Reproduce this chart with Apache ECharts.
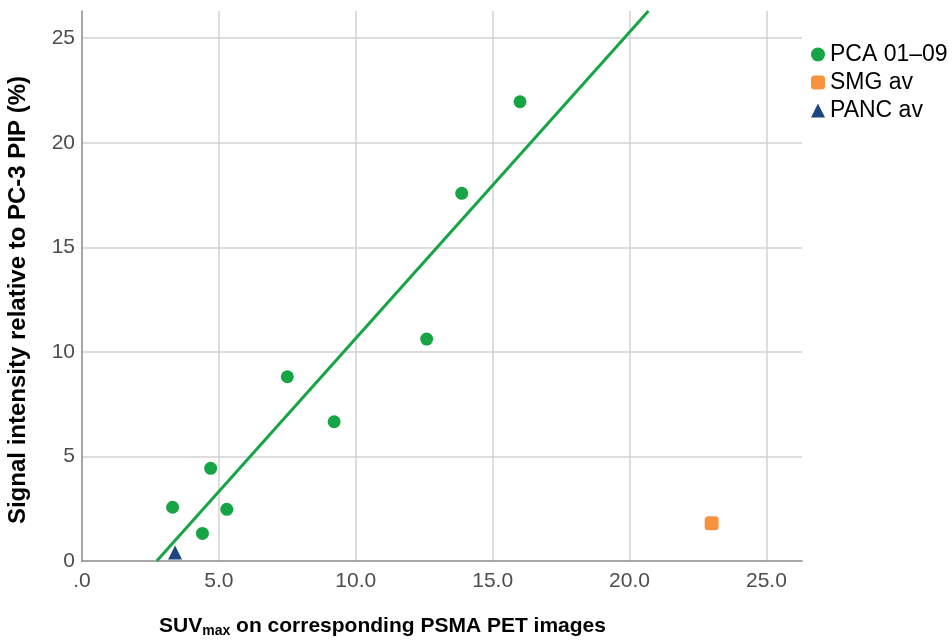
<!DOCTYPE html>
<html>
<head>
<meta charset="utf-8">
<script src="https://cdn.jsdelivr.net/npm/echarts@6/dist/echarts.min.js"></script>
<style>
  html, body { margin: 0; padding: 0; background: #fff; }
  #chart { width: 952px; height: 642px; }
</style>
</head>
<body>
<div id="chart"></div>
<script>
// PCA 01-09 : SUVmax vs signal intensity
const pcaSuv = [3.31, 4.70, 4.40, 5.29, 7.50, 9.21, 12.59, 13.87, 16.00]
const pcaSignal = [2.57, 4.43, 1.32, 2.47, 8.81, 6.66, 10.61, 17.58, 21.96]
// averages of other tissues
const smgPoint = [23.0, 1.80]
const pancPoint = [3.40, 0.41]
// regression line end points
const fitLine = [[2.73, 0], [20.69, 26.3]]
// tick labels
const xTickLabels = ['.0', '5.0', '10.0', '15.0', '20.0', '25.0']
const yTickLabels = ['0', '5', '10', '15', '20', '25']

const green = '#16a444'
const font = 'Liberation Sans, Arial, sans-serif'

const chart = echarts.init(document.getElementById('chart'))

const pcaData = pcaSuv.map((x, i) => [x, pcaSignal[i]])

//刻度标签: only multiples of 5
const tickFmt = labels => value => {
  const idx = value / 5
  return Number.isInteger(idx) && labels[idx] !== undefined ? labels[idx] : ''
}

const option = {
  animation: false,
  textStyle: { fontFamily: font },
  grid: { left: 82, right: 150, top: 11, bottom: 81, outerBoundsMode: 'none', containLabel: false },
  legend: {
    orient: 'vertical',
    left: 806,
    top: 38,
    itemWidth: 14,
    itemHeight: 14,
    itemGap: 5,
    textStyle: { fontSize: 23, color: '#000', fontFamily: font },
    data: ['PCA 01–09', 'SMG av', 'PANC av']
  },
  xAxis: {
    type: 'value',
    min: 0,
    max: 26.3,
    interval: 5,
    name: 'SUV{sub|max} on corresponding PSMA PET images',
    nameLocation: 'middle',
    nameGap: 53,
    nameTextStyle: {
      fontSize: 21,
      fontWeight: 'bold',
      color: '#000',
      fontFamily: font,
      padding: [0, 119, 0, 0],
      rich: {
        sub: { fontSize: 14, fontWeight: 'bold', color: '#000', fontFamily: font, padding: [10, 0, 0, 0] }
      }
    },
    axisLine: { lineStyle: { color: '#8a8a8a', width: 1.5 } },
    axisTick: { show: false },
    axisLabel: {
      fontSize: 21,
      color: '#4d4d4d',
      margin: 10,
      formatter: tickFmt(xTickLabels)
    },
    splitLine: { show: true, showMinLine: false, showMaxLine: false, lineStyle: { color: '#d2d2d2', width: 1.5 } }
  },
  yAxis: {
    type: 'value',
    min: 0,
    max: 26.3,
    interval: 5,
    name: 'Signal intensity relative to PC-3 PIP (%)',
    nameLocation: 'middle',
    nameGap: 52,
    nameTextStyle: { fontSize: 24, fontWeight: 'bold', color: '#000', fontFamily: font, padding: [0, 28, 0, 0] },
    axisLine: { show: true, lineStyle: { color: '#8a8a8a', width: 1.5 } },
    axisTick: { show: false },
    axisLabel: {
      fontSize: 21,
      color: '#4d4d4d',
      margin: 7,
      formatter: tickFmt(yTickLabels)
    },
    splitLine: { show: true, showMinLine: false, showMaxLine: false, lineStyle: { color: '#d2d2d2', width: 1.5 } }
  },
  series: [
    {
      name: 'fit',
      type: 'line',
      data: fitLine,
      symbol: 'none',
      lineStyle: { color: green, width: 3 },
      z: 1
    },
    {
      name: 'PCA 01–09',
      type: 'scatter',
      data: pcaData,
      symbol: 'circle',
      symbolSize: 13,
      itemStyle: { color: green, opacity: 1 },
      z: 3
    },
    {
      name: 'SMG av',
      type: 'scatter',
      data: [smgPoint],
      symbol: 'roundRect',
      symbolSize: 14,
      itemStyle: { color: '#f7933f', opacity: 1 },
      z: 3
    },
    {
      name: 'PANC av',
      type: 'scatter',
      data: [pancPoint],
      symbol: 'triangle',
      symbolSize: 14,
      itemStyle: { color: '#1d4580', opacity: 1 },
      z: 3
    }
  ]
}

chart.setOption(option)
</script>
</body>
</html>
